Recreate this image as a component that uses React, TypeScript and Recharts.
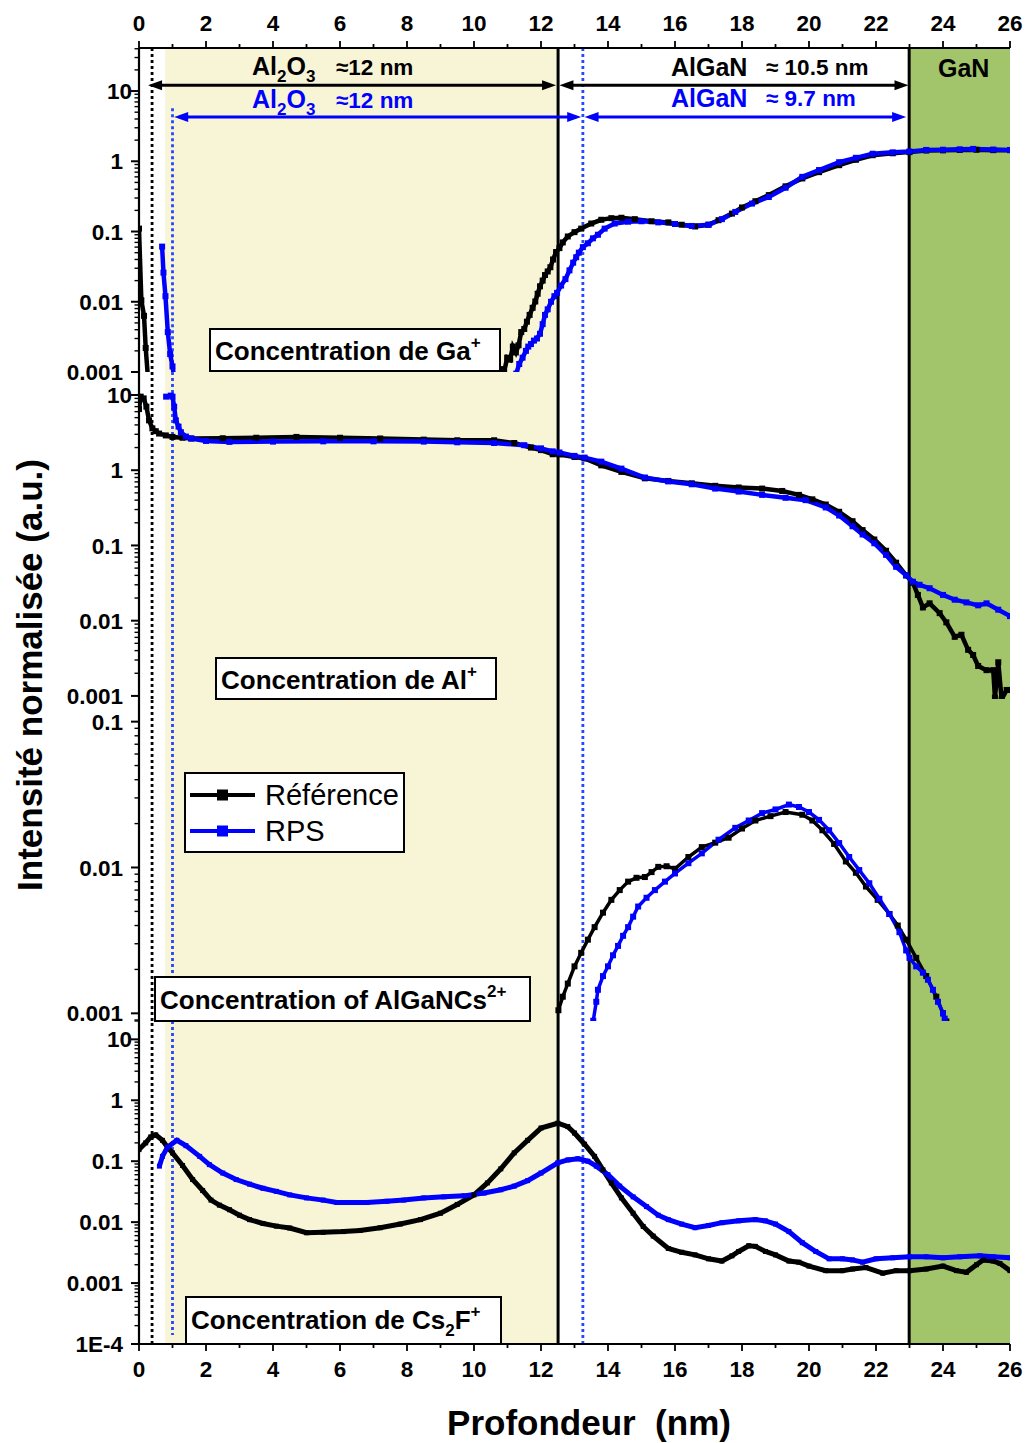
import React from 'react';
import { LineChart, Line, XAxis, YAxis, ReferenceLine, ReferenceArea } from 'recharts';

type P = [number, number | null];

const FONT = '"Liberation Sans", Arial, Helvetica, sans-serif';
const BLACK = '#000000';
const BLUE = '#0000FF';
const BLUE_DOT = '#2448FF';
const YELLOW = '#F8F4D6';
const GREEN = '#A2C46A';

// ---------- x axis (Profondeur, nm) ----------
const xTicks = [0, 1, 2, 3, 4, 5, 6, 7, 8, 9, 10, 11, 12, 13, 14, 15, 16, 17, 18, 19, 20, 21, 22, 23, 24, 25, 26];
const xDomain: [number, number] = [0, 26];

// ---------- layer boundaries (nm) ----------
const surfaceRef = 0.39;
const surfaceRps = 1.0;
const oxideStart = 0.78;
const interfaceRef = 12.51;
const interfaceRps = 13.25;
const ganStart = 22.99;

// ---------- Ga+ ----------
const gaRef: P[] = [
  [0, 0.11], [0.07, 0.0105], [0.15, 0.0063], [0.2, 0.0022], [0.27, 0.0008], [5, null],
  [10.82, 0.0011], [10.9, 0.001], [10.99, 0.0016], [11.08, 0.0015], [11.16, 0.0023], [11.25, 0.0019],
  [11.33, 0.0024], [11.41, 0.0037], [11.5, 0.0041], [11.58, 0.0052], [11.66, 0.0065], [11.75, 0.0082],
  [11.83, 0.0101], [11.9, 0.013], [11.97, 0.0166], [12.05, 0.02], [12.12, 0.024], [12.2, 0.027],
  [12.28, 0.031], [12.36, 0.04], [12.45, 0.051], [12.55, 0.058], [12.65, 0.07], [12.8, 0.085],
  [13.0, 0.098], [13.2, 0.11], [13.5, 0.13], [13.8, 0.147], [14.1, 0.155], [14.4, 0.157], [14.8, 0.15],
  [15.3, 0.14], [15.8, 0.135], [16.2, 0.125], [16.6, 0.118], [17.0, 0.125], [17.3, 0.145], [17.7, 0.18],
  [18.0, 0.22], [18.4, 0.27], [18.8, 0.33], [19.3, 0.44], [19.8, 0.57], [20.3, 0.7], [20.9, 0.88],
  [21.4, 1.05], [21.9, 1.22], [22.5, 1.3], [23.0, 1.35], [23.5, 1.42], [24.0, 1.43], [24.5, 1.45],
  [25.0, 1.46], [25.5, 1.44], [26.0, 1.44],
];
const gaRps: P[] = [
  [0.69, 0.061], [0.73, 0.026], [0.79, 0.012], [0.86, 0.0037], [0.93, 0.0018], [1.0, 0.0012], [1.06, 0.0008], [6, null],
  [11.26, 0.00095], [11.35, 0.0013], [11.45, 0.0016], [11.55, 0.002], [11.62, 0.0023], [11.7, 0.0025],
  [11.79, 0.0028], [11.88, 0.003], [11.97, 0.0035], [12.05, 0.0048], [12.12, 0.0065], [12.2, 0.0078],
  [12.3, 0.01], [12.4, 0.012], [12.48, 0.0134], [12.6, 0.017], [12.73, 0.021], [12.85, 0.028],
  [12.96, 0.036], [13.05, 0.043], [13.13, 0.05], [13.25, 0.06], [13.4, 0.068], [13.55, 0.08], [13.7, 0.09],
  [13.9, 0.11], [14.2, 0.13], [14.6, 0.138], [15.0, 0.14], [15.5, 0.135], [16.0, 0.128], [16.5, 0.12],
  [17.0, 0.125], [17.4, 0.15], [17.8, 0.19], [18.3, 0.25], [18.8, 0.31], [19.3, 0.42], [19.8, 0.6],
  [20.3, 0.75], [20.9, 0.97], [21.4, 1.12], [21.9, 1.28], [22.5, 1.34], [23.0, 1.38], [23.5, 1.45],
  [24.0, 1.46], [24.5, 1.48], [24.9, 1.5], [25.5, 1.47], [26.0, 1.45],
];

// ---------- Al+ ----------
const alRef: P[] = [
  [0.0, 6.5], [0.05, 9.5], [0.14, 9.0], [0.22, 7.0], [0.3, 4.6], [0.4, 3.6], [0.5, 3.3], [0.6, 3.07],
  [0.8, 2.9], [1.0, 2.77], [1.3, 2.7], [1.56, 2.64], [2.5, 2.66], [3.5, 2.7], [4.7, 2.77], [6.0, 2.7],
  [7.2, 2.64], [8.5, 2.55], [9.5, 2.5], [10.6, 2.5], [11.2, 2.3], [11.7, 2.0], [12.0, 1.85], [12.35, 1.63],
  [12.55, 1.62], [13.0, 1.5], [13.3, 1.43], [13.8, 1.16], [14.4, 0.95], [15.1, 0.78], [15.8, 0.72],
  [16.5, 0.67], [17.2, 0.62], [17.9, 0.59], [18.6, 0.57], [19.2, 0.53], [19.7, 0.47], [20.1, 0.41],
  [20.5, 0.35], [20.9, 0.28], [21.3, 0.21], [21.6, 0.16], [21.95, 0.12], [22.3, 0.085], [22.6, 0.059],
  [22.9, 0.04], [23.1, 0.032], [23.25, 0.022], [23.4, 0.015], [23.6, 0.017], [23.9, 0.0126], [24.1, 0.0095],
  [24.35, 0.0061], [24.55, 0.0065], [24.75, 0.0041], [24.9, 0.0035], [25.05, 0.0025], [25.3, 0.0022],
  [25.5, 0.0022], [25.55, 0.00095], [25.65, 0.0028], [25.75, 0.0009], [25.9, 0.0012], [26.0, 0.0012],
];
const alRps: P[] = [
  [0.81, 9.5], [0.95, 9.8], [1.0, 9.5], [1.05, 7.0], [1.1, 4.6], [1.18, 3.8], [1.25, 3.2], [1.4, 2.8],
  [1.56, 2.64], [2.0, 2.45], [2.7, 2.38], [4.0, 2.4], [5.5, 2.42], [7.0, 2.42], [8.5, 2.4], [9.5, 2.35],
  [10.6, 2.3], [11.5, 2.15], [12.0, 1.95], [12.35, 1.78], [12.55, 1.72], [13.0, 1.55], [13.3, 1.47],
  [13.8, 1.3], [14.4, 1.05], [15.1, 0.8], [15.8, 0.71], [16.5, 0.65], [17.2, 0.57], [17.9, 0.52],
  [18.6, 0.47], [19.3, 0.43], [19.9, 0.4], [20.5, 0.32], [20.9, 0.25], [21.3, 0.18], [21.6, 0.14],
  [21.95, 0.107], [22.3, 0.075], [22.6, 0.052], [22.9, 0.04], [23.1, 0.033], [23.3, 0.03], [23.6, 0.027],
  [24.0, 0.022], [24.35, 0.019], [24.7, 0.0175], [25.05, 0.016], [25.3, 0.017], [25.65, 0.014], [26.0, 0.0115],
];

// ---------- AlGaNCs2+ ----------
const cluRef: P[] = [
  [12.52, 0.00105], [12.65, 0.0013], [12.8, 0.0016], [13.0, 0.0021], [13.2, 0.0026], [13.4, 0.0032],
  [13.6, 0.0039], [13.85, 0.0049], [14.1, 0.006], [14.35, 0.007], [14.6, 0.008], [14.85, 0.0085],
  [15.1, 0.0086], [15.3, 0.0093], [15.5, 0.0101], [15.75, 0.0102], [16.0, 0.0098], [16.4, 0.0118],
  [16.8, 0.0138], [17.2, 0.0148], [17.6, 0.016], [18.0, 0.0185], [18.4, 0.021], [18.85, 0.0225],
  [19.3, 0.024], [19.8, 0.023], [20.1, 0.021], [20.4, 0.018], [20.75, 0.0145], [21.1, 0.011],
  [21.4, 0.0092], [21.7, 0.0074], [22.05, 0.006], [22.4, 0.0048], [22.65, 0.004], [22.9, 0.0032],
  [23.2, 0.0024], [23.5, 0.0018], [23.8, 0.0013], [24.0, 0.001], [24.1, 0.00088],
];
const cluRps: P[] = [
  [13.56, 0.00089], [13.65, 0.0012], [13.7, 0.00145], [13.85, 0.0018], [14.0, 0.0021], [14.15, 0.0025],
  [14.3, 0.0029], [14.45, 0.0034], [14.6, 0.0039], [14.75, 0.0046], [14.9, 0.0054], [15.15, 0.0062],
  [15.4, 0.007], [15.7, 0.008], [16.0, 0.0091], [16.4, 0.0107], [16.8, 0.0125], [17.3, 0.0155],
  [17.8, 0.0187], [18.2, 0.021], [18.6, 0.0236], [19.0, 0.025], [19.4, 0.027], [19.7, 0.026], [20.0, 0.024],
  [20.3, 0.0212], [20.6, 0.018], [20.9, 0.0147], [21.2, 0.0118], [21.5, 0.0096], [21.8, 0.0078],
  [22.1, 0.0061], [22.4, 0.0048], [22.7, 0.0036], [22.9, 0.0027], [23.0, 0.0024], [23.2, 0.0021],
  [23.4, 0.0019], [23.55, 0.0017], [23.7, 0.00145], [23.85, 0.0012], [24.0, 0.001], [24.05, 0.00092],
];

// ---------- Cs2F+ ----------
const csRef: P[] = [
  [0, 0.155], [0.2, 0.2], [0.35, 0.25], [0.5, 0.27], [0.7, 0.22], [0.85, 0.17], [1.0, 0.137], [1.3, 0.085],
  [1.6, 0.05], [1.9, 0.033], [2.15, 0.023], [2.4, 0.019], [2.7, 0.016], [3.0, 0.013], [3.3, 0.011],
  [3.7, 0.0095], [4.1, 0.0086], [4.5, 0.008], [5.0, 0.0067], [5.5, 0.0068], [6.1, 0.007], [6.6, 0.0073],
  [7.2, 0.0081], [7.8, 0.0093], [8.4, 0.011], [9.0, 0.014], [9.5, 0.0195], [10.0, 0.028], [10.4, 0.044],
  [10.8, 0.075], [11.2, 0.137], [11.6, 0.22], [12.0, 0.35], [12.5, 0.42], [12.8, 0.37], [13.0, 0.29],
  [13.3, 0.19], [13.6, 0.12], [13.85, 0.072], [14.1, 0.044], [14.4, 0.025], [14.75, 0.014], [15.05, 0.0085],
  [15.35, 0.0059], [15.8, 0.0037], [16.2, 0.0032], [16.6, 0.0029], [17.0, 0.0025], [17.4, 0.0023],
  [17.7, 0.0028], [17.9, 0.0033], [18.2, 0.0041], [18.4, 0.004], [18.7, 0.0033], [19.0, 0.0029],
  [19.4, 0.0023], [19.7, 0.0022], [20.0, 0.0019], [20.5, 0.0016], [21.0, 0.0016], [21.3, 0.0017],
  [21.7, 0.0018], [22.2, 0.00145], [22.6, 0.0016], [23.0, 0.0016], [23.5, 0.0017], [24.0, 0.0019],
  [24.4, 0.0016], [24.7, 0.0015], [25.0, 0.002], [25.2, 0.0024], [25.5, 0.0023], [25.7, 0.0021], [26.0, 0.0016],
];
const csRps: P[] = [
  [0.61, 0.083], [0.7, 0.12], [0.85, 0.17], [1.13, 0.22], [1.4, 0.18], [1.81, 0.12], [2.1, 0.088],
  [2.5, 0.064], [2.9, 0.05], [3.3, 0.042], [3.7, 0.036], [4.1, 0.032], [4.5, 0.028], [5.0, 0.025],
  [5.5, 0.023], [5.9, 0.021], [6.4, 0.021], [6.8, 0.021], [7.4, 0.022], [7.9, 0.023], [8.5, 0.025],
  [9.1, 0.026], [9.7, 0.027], [10.3, 0.03], [10.8, 0.034], [11.2, 0.039], [11.6, 0.048], [12.0, 0.064],
  [12.5, 0.094], [12.8, 0.105], [13.1, 0.11], [13.4, 0.1], [13.65, 0.083], [14.0, 0.06], [14.35, 0.039],
  [14.75, 0.026], [15.15, 0.018], [15.5, 0.013], [15.8, 0.011], [16.2, 0.0093], [16.6, 0.0081],
  [17.0, 0.0088], [17.4, 0.0098], [17.9, 0.0105], [18.4, 0.011], [18.7, 0.0105], [19.0, 0.0093],
  [19.4, 0.007], [19.8, 0.0046], [20.2, 0.0033], [20.6, 0.0025], [21.0, 0.0025], [21.3, 0.0024],
  [21.6, 0.0022], [22.0, 0.0025], [22.5, 0.0026], [23.0, 0.0027], [23.5, 0.0027], [24.0, 0.0026],
  [24.5, 0.0027], [25.1, 0.0028], [25.5, 0.0027], [26.0, 0.0026],
];

// ---------- y domains of the four panels ----------
const gaDomain: [number, number] = [0.001, 41];
const alDomain: [number, number] = [0.00091, 20.2];
const cluDomain: [number, number] = [0.000886, 0.143];
const csDomain: [number, number] = [0.0001, 20];

// ---------- arrows (layer thickness) ----------
const arrowRefY = 12.05;
const arrowRpsY = 4.27;

const toData = (pts: P[]) => pts.map(([x, y]) => ({ x, y }));

function logTicks(min: number, max: number) {
  const out: number[] = [];
  for (let d = -5; d <= 2; d++) {
    for (let k = 1; k <= 9; k++) {
      const v = +(k * Math.pow(10, d)).toPrecision(6);
      if (v >= min * 0.9999 && v <= max * 1.0001) out.push(v);
    }
  }
  return out;
}

const fmtY = (v: number) => (v < 0.0005 ? '1E-4' : String(v));

function YTick(props: any) {
  const { x, y, payload } = props;
  const v = payload.value as number;
  const lg = Math.log10(v);
  const major = Math.abs(lg - Math.round(lg)) < 1e-6;
  return (
    <g>
      <line x1={x} x2={x - (major ? 8 : 4.5)} y1={y} y2={y} stroke={BLACK} strokeWidth={major ? 2 : 1.4} />
      {major && (
        <text x={x - 16 + (v === 10 ? 9 : 0)} y={y} dy="0.36em" textAnchor="end" fontSize={22.5}
          fontWeight="bold" fontFamily={FONT} fill={BLACK}>{fmtY(v)}</text>
      )}
    </g>
  );
}

function XTickTop(props: any) {
  const { x, y, payload } = props;
  const v = payload.value as number;
  const major = v % 2 === 0;
  return (
    <g>
      <line x1={x} x2={x} y1={y} y2={y - (major ? 7 : 4)} stroke={BLACK} strokeWidth={1.8} />
      {major && (
        <text x={x} y={y - 17.5} textAnchor="middle" fontSize={22.5} fontWeight="bold" fontFamily={FONT} fill={BLACK}>{v}</text>
      )}
    </g>
  );
}

function XTickBottom(props: any) {
  const { x, y, payload } = props;
  const v = payload.value as number;
  const major = v % 2 === 0;
  return (
    <g>
      <line x1={x} x2={x} y1={y} y2={y + (major ? 7 : 4)} stroke={BLACK} strokeWidth={1.8} />
      {major && (
        <text x={x} y={y + 33} textAnchor="middle" fontSize={22.5} fontWeight="bold" fontFamily={FONT} fill={BLACK}>{v}</text>
      )}
    </g>
  );
}

const square = (color: string, s: number) => (props: any) => {
  const { cx, cy, index } = props;
  if (cx == null || cy == null || !isFinite(cx) || !isFinite(cy)) return <g key={`d${index}`} />;
  return <rect key={`d${index}`} x={cx - s / 2} y={cy - s / 2} width={s} height={s} fill={color} />;
};

const arrowShape = (color: string) => (props: any) => {
  const { x1, y1, x2, y2 } = props;
  const L = 14;
  const H = 5;
  const a = Math.min(x1, x2);
  const b = Math.max(x1, x2);
  const y = (y1 + y2) / 2;
  return (
    <g>
      <line x1={a + 6} y1={y} x2={b - 6} y2={y} stroke={color} strokeWidth={3} />
      <polygon points={`${a},${y} ${a + L},${y - H} ${a + L},${y + H}`} fill={color} />
      <polygon points={`${b},${y} ${b - L},${y - H} ${b - L},${y + H}`} fill={color} />
    </g>
  );
};

const vShape = (color: string, width: number, dash?: string) => (props: any) => {
  const { x1, y1, x2, y2 } = props;
  return <line x1={x1} y1={y1} x2={x2} y2={y2} stroke={color} strokeWidth={width} strokeDasharray={dash} />;
};

const MARGIN = { top: 0, right: 19, bottom: 0, left: 59 };
const W = 1029;

type PanelProps = {
  top: number;
  height: number;
  domain: [number, number];
  ref1: P[];
  rps: P[];
  dotSize: number;
  lineWidth: number;
  axis: 'top' | 'bottom' | 'none';
  blueDotSeg?: [number, number];
  extra?: React.ReactNode;
};

function Panel({ top, height, domain, ref1, rps, dotSize, lineWidth, axis, blueDotSeg, extra }: PanelProps) {
  const ticks = logTicks(domain[0], domain[1]);
  const seg = blueDotSeg ?? domain;
  return (
    <div style={{ position: 'absolute', left: 0, top, width: W, height }}>
      <LineChart width={W} height={height} margin={MARGIN}>
        {axis === 'top' && (
          <XAxis xAxisId={0} type="number" dataKey="x" domain={xDomain} allowDataOverflow orientation="top"
            height={48} ticks={xTicks} interval={0} tickSize={0} tickMargin={0} tick={<XTickTop />}
            axisLine={{ stroke: BLACK, strokeWidth: 2.2 }} />
        )}
        {axis === 'bottom' && (
          <XAxis xAxisId={0} type="number" dataKey="x" domain={xDomain} allowDataOverflow orientation="bottom"
            height={99} ticks={xTicks} interval={0} tickSize={0} tickMargin={0} tick={<XTickBottom />}
            axisLine={{ stroke: BLACK, strokeWidth: 2.2 }} />
        )}
        {axis !== 'bottom' && (
          <XAxis xAxisId={axis === 'top' ? 'sep' : 0} type="number" dataKey="x" domain={xDomain} allowDataOverflow
            orientation="bottom" height={0} tick={false} tickLine={false}
            axisLine={{ stroke: '#333333', strokeWidth: 1.3 }} />
        )}
        <YAxis yAxisId={0} type="number" scale="log" domain={domain} allowDataOverflow width={80}
          ticks={ticks} interval={0} tickSize={0} tickMargin={0} tick={<YTick />}
          axisLine={{ stroke: BLACK, strokeWidth: 2.2 }} />
        <YAxis yAxisId="r" orientation="right" type="number" domain={[0, 1]} width={0} tick={false} tickLine={false}
          axisLine={{ stroke: BLACK, strokeWidth: 2.2 }} />

        <ReferenceArea x1={oxideStart} x2={interfaceRef} fill={YELLOW} fillOpacity={1} stroke="none" ifOverflow="hidden" />
        <ReferenceArea x1={ganStart} x2={26} fill={GREEN} fillOpacity={1} stroke="none" ifOverflow="hidden" />

        <ReferenceLine x={surfaceRef} shape={vShape(BLACK, 2.8, '3 3')} />
        <ReferenceLine segment={[{ x: surfaceRps, y: seg[0] }, { x: surfaceRps, y: seg[1] }]}
          shape={vShape(BLUE_DOT, 2.8, '3 3')} ifOverflow="visible" />
        <ReferenceLine x={interfaceRps} shape={vShape(BLUE_DOT, 2.8, '3 3')} />
        <ReferenceLine x={interfaceRef} shape={vShape(BLACK, 3)} />
        <ReferenceLine x={ganStart} shape={vShape(BLACK, 3)} />
        {extra}

        <Line data={toData(ref1)} dataKey="y" type="linear" stroke={BLACK} strokeWidth={lineWidth}
          dot={square(BLACK, dotSize)} activeDot={false} isAnimationActive={false} connectNulls={false} />
        <Line data={toData(rps)} dataKey="y" type="linear" stroke={BLUE} strokeWidth={lineWidth}
          dot={square(BLUE, dotSize)} activeDot={false} isAnimationActive={false} connectNulls={false} />
      </LineChart>
    </div>
  );
}

const txt = { fontFamily: FONT, fontWeight: 'bold' as const };

function Overlay() {
  return (
    <svg width={W} height={1443} style={{ position: 'absolute', left: 0, top: 0, pointerEvents: 'none' }}>
      {/* layer labels */}
      <text x={252} y={75} fontSize={25} fill={BLACK} {...txt}>
        Al<tspan fontSize={17} dy={7}>2</tspan><tspan dy={-7}>O</tspan><tspan fontSize={17} dy={7}>3</tspan>
      </text>
      <text x={336} y={75} fontSize={22.5} fill={BLACK} {...txt}>≈12 nm</text>
      <text x={252} y={108} fontSize={25} fill={BLUE} {...txt}>
        Al<tspan fontSize={17} dy={7}>2</tspan><tspan dy={-7}>O</tspan><tspan fontSize={17} dy={7}>3</tspan>
      </text>
      <text x={336} y={108} fontSize={22.5} fill={BLUE} {...txt}>≈12 nm</text>
      <text x={671} y={76} fontSize={25} fill={BLACK} {...txt}>AlGaN</text>
      <text x={766} y={75} fontSize={22.5} fill={BLACK} {...txt}>≈ 10.5 nm</text>
      <text x={671} y={107} fontSize={25} fill={BLUE} {...txt}>AlGaN</text>
      <text x={766} y={106} fontSize={22.5} fill={BLUE} {...txt}>≈ 9.7 nm</text>
      <text x={938} y={77} fontSize={25} fill={BLACK} {...txt}>GaN</text>

      {/* panel captions */}
      <rect x={210} y={329} width={290} height={42} fill="#fff" stroke={BLACK} strokeWidth={2} />
      <text x={215} y={360} fontSize={26} fill={BLACK} {...txt}>
        Concentration de Ga<tspan fontSize={17} dy={-12}>+</tspan>
      </text>
      <rect x={216} y={658} width={280} height={41} fill="#fff" stroke={BLACK} strokeWidth={2} />
      <text x={221} y={689} fontSize={26} fill={BLACK} {...txt}>
        Concentration de Al<tspan fontSize={17} dy={-12}>+</tspan>
      </text>
      <rect x={155} y={977} width={375} height={44} fill="#fff" stroke={BLACK} strokeWidth={2} />
      <text x={160} y={1009} fontSize={26} fill={BLACK} {...txt}>
        Concentration of AlGaNCs<tspan fontSize={17} dy={-12}>2+</tspan>
      </text>
      <rect x={186} y={1297} width={315} height={47} fill="#fff" stroke={BLACK} strokeWidth={2} />
      <text x={191} y={1329} fontSize={26} fill={BLACK} {...txt}>
        Concentration de Cs<tspan fontSize={17} dy={7}>2</tspan><tspan dy={-7}>F</tspan><tspan fontSize={17} dy={-12}>+</tspan>
      </text>

      {/* legend */}
      <rect x={185} y={773} width={219} height={79} fill="#fff" stroke={BLACK} strokeWidth={2} />
      <line x1={190} x2={255} y1={795} y2={795} stroke={BLACK} strokeWidth={4} />
      <rect x={217} y={789.5} width={11} height={11} fill={BLACK} />
      <text x={265} y={805} fontSize={29} fill={BLACK} fontFamily={FONT}>Référence</text>
      <line x1={190} x2={255} y1={831} y2={831} stroke={BLUE} strokeWidth={4} />
      <rect x={217} y={825.5} width={11} height={11} fill={BLUE} />
      <text x={265} y={841} fontSize={29} fill={BLACK} fontFamily={FONT}>RPS</text>

      {/* axis titles */}
      <text transform="translate(42,675) rotate(-90)" textAnchor="middle" fontSize={35} fill={BLACK} {...txt}>
        Intensité normalisée (a.u.)
      </text>
      <text x={589} y={1435} textAnchor="middle" fontSize={35} fill={BLACK} {...txt}>{'Profondeur\u00A0 (nm)'}</text>
    </svg>
  );
}

export default function App() {
  const arrows = [
    <ReferenceLine key="a1" segment={[{ x: 0.27, y: arrowRefY }, { x: 12.45, y: arrowRefY }]} shape={arrowShape(BLACK)} ifOverflow="visible" />,
    <ReferenceLine key="a2" segment={[{ x: 12.55, y: arrowRefY }, { x: 22.97, y: arrowRefY }]} shape={arrowShape(BLACK)} ifOverflow="visible" />,
    <ReferenceLine key="a3" segment={[{ x: 1.05, y: arrowRpsY }, { x: 13.2, y: arrowRpsY }]} shape={arrowShape(BLUE)} ifOverflow="visible" />,
    <ReferenceLine key="a4" segment={[{ x: 13.3, y: arrowRpsY }, { x: 22.9, y: arrowRpsY }]} shape={arrowShape(BLUE)} ifOverflow="visible" />,
  ];
  return (
    <div style={{ position: 'absolute', left: 0, top: 0, width: W, height: 1443, background: '#fff', overflow: 'hidden' }}>
      <style>{'.recharts-surface{overflow:visible !important}.recharts-wrapper{overflow:visible !important}'}</style>
      <Panel top={0} height={372} domain={gaDomain} ref1={gaRef} rps={gaRps} dotSize={6} lineWidth={4.5}
        axis="top" blueDotSeg={[5.7, 0.001]} extra={arrows} />
      <Panel top={372} height={327} domain={alDomain} ref1={alRef} rps={alRps} dotSize={6} lineWidth={4.5} axis="none" />
      <Panel top={699} height={322} domain={cluDomain} ref1={cluRef} rps={cluRps} dotSize={6} lineWidth={3.5} axis="none" />
      <Panel top={1021} height={422} domain={csDomain} ref1={csRef} rps={csRps} dotSize={5} lineWidth={5}
        axis="bottom" blueDotSeg={[20, 0.00014]} />
      <Overlay />
    </div>
  );
}
